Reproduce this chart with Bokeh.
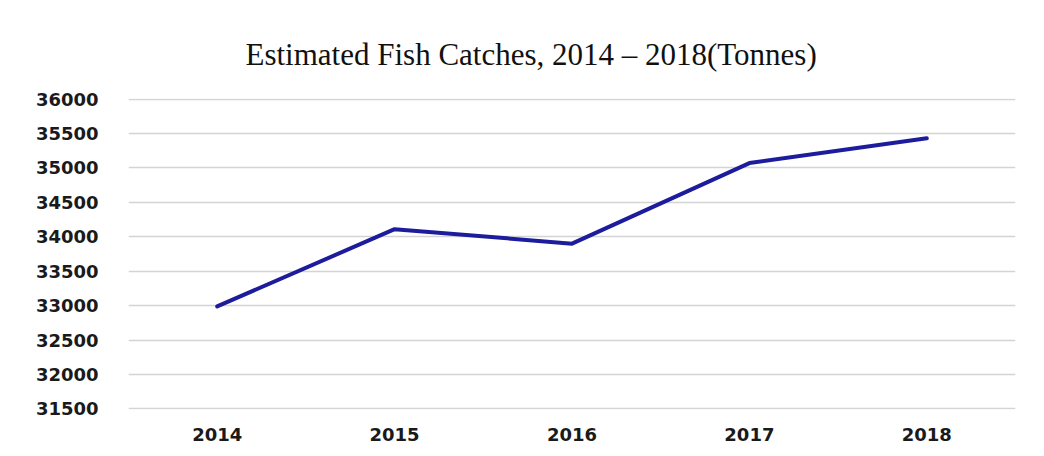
from bokeh.plotting import figure
from bokeh.models import FactorRange, Range1d, SingleIntervalTicker, NumeralTickFormatter
from bokeh.embed import file_html
from bokeh.resources import INLINE

years = ["2014", "2015", "2016", "2017", "2018"]
catches = [32990, 34110, 33900, 35070, 35430]
title_text = "Estimated Fish Catches, 2014 \u2013 2018(Tonnes)"

p = figure(width=1044, height=456, x_range=FactorRange(*years), y_range=Range1d(31492, 36008),
           output_backend="svg", toolbar_location=None, title=title_text,
           min_border_left=128, min_border_right=29, min_border_top=98, min_border_bottom=47)
p.title.text_font = "Liberation Serif"
p.title.text_font_size = "31px"
p.title.text_font_style = "normal"
p.title.align = "left"
p.title.offset = 117
p.title.text_color = "#111111"
p.title.standoff = 54
p.outline_line_color = None
p.background_fill_color = "white"
p.border_fill_color = "white"

p.line(x=years, y=catches, line_color="#1c1c9c", line_width=4, line_join="round", line_cap="round")

p.xgrid.grid_line_color = None
p.ygrid.grid_line_color = "#d4d4d4"
p.ygrid.grid_line_width = 1.5

p.yaxis.ticker = SingleIntervalTicker(interval=500)
p.yaxis.formatter = NumeralTickFormatter(format="0")
for ax in (p.xaxis[0], p.yaxis[0]):
    ax.axis_line_color = None
    ax.major_tick_line_color = None
    ax.minor_tick_line_color = None
    ax.major_label_text_font = "DejaVu Sans"
    ax.major_label_text_font_style = "bold"
    ax.major_label_text_font_size = "18px"
    ax.major_label_text_color = "#1a1a1a"
p.yaxis.major_label_standoff = 24
p.xaxis.major_label_standoff = 12

open("out.html", "w").write(file_html(p, INLINE))
